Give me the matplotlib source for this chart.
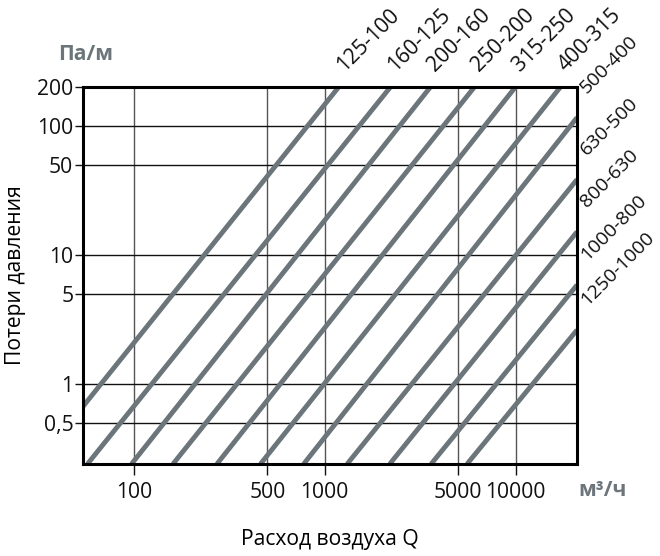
import matplotlib
matplotlib.use("Agg")
import matplotlib.pyplot as plt
from matplotlib.ticker import FixedLocator, NullLocator

plt.rcParams['font.family'] = ['Open Sans', 'DejaVu Sans']

# Диаметры воздуховодов и концы линий (Q в м3/ч, потери в Па/м)
labels = ["125-100", "160-125", "200-160", "250-200", "315-250", "400-315",
          "500-400", "630-500", "800-630", "1000-800", "1250-1000"]
q_start = [54, 57, 97, 160, 272, 460, 775, 1310, 2190, 3610, 5570]
p_start = [0.67, 0.24, 0.24, 0.24, 0.24, 0.24, 0.24, 0.24, 0.24, 0.24, 0.24]
q_end = [1183, 2210, 3580, 6090, 9990, 17200, 21000, 21000, 21000, 21000, 21000]
p_end = [200, 200, 200, 200, 200, 200, 116, 38.4, 15.1, 5.85, 2.62]

x_ticks = [100, 500, 1000, 5000, 10000]
x_ticklabels = ["100", "500", "1000", "5000", "10000"]
y_ticks = [0.5, 1, 5, 10, 50, 100, 200]
y_ticklabels = ["0,5", "1", "5", "10", "50", "100", "200"]

line_color = "#6b757a"
fs = 15.2

fig = plt.figure(figsize=(6.6, 5.56), dpi=100)
ax = fig.add_axes([83 / 660, 1 - 464 / 556, 494 / 660, 377 / 556])
ax.set_xscale("log")
ax.set_yscale("log")
ax.set_xlim(54, 21000)
ax.set_ylim(0.24, 200)

# сетка
for x in x_ticks:
    ax.axvline(x, color="#555555", lw=1.0, zorder=1)
for y in y_ticks[:-1]:
    ax.axhline(y, color="#111111", lw=1.0, zorder=1)

for i in range(len(labels)):
    ax.plot([q_start[i], q_end[i]], [p_start[i], p_end[i]], color=line_color,
            lw=3.5, solid_capstyle="butt", zorder=3, clip_on=True)

# подписи линий: сверху и справа
for i in range(len(labels)):
    if p_end[i] >= 200:
        off = (5 * 0.72, 15 * 0.72)
        size = fs
    else:
        off = (10 * 0.72, 24 * 0.72)
        size = 14
    ax.annotate(labels[i], (q_end[i], p_end[i]), xytext=off,
                textcoords="offset points", rotation=45,
                rotation_mode="anchor", ha="left", va="baseline",
                fontsize=size, color="#111111", annotation_clip=False)

ax.xaxis.set_major_locator(FixedLocator(x_ticks))
ax.xaxis.set_minor_locator(NullLocator())
ax.set_xticklabels(x_ticklabels)
ax.yaxis.set_major_locator(FixedLocator(y_ticks))
ax.yaxis.set_minor_locator(NullLocator())
ax.set_yticklabels(y_ticklabels)
ax.tick_params(axis="x", direction="out", length=8, width=1, pad=5,
               labelsize=fs, colors="#111111")
ax.tick_params(axis="y", direction="out", length=6, width=1, pad=1,
               labelsize=fs, colors="#111111")

for s in ax.spines.values():
    s.set_linewidth(2.2)
    s.set_color("black")
    s.set_zorder(5)

ax.set_ylabel("Потери давления", fontsize=fs, labelpad=8)
fig.text(330 / 660, 1 - 540 / 556, "Расход воздуха Q", fontsize=fs,
         ha="center", va="center")
fig.text(58 / 660, 1 - 55 / 556, "Па/м", fontsize=fs, fontweight="bold",
         color=line_color, ha="left", va="center")
fig.text(578 / 660, 1 - 490 / 556, "м³/ч", fontsize=fs, fontweight="bold",
         color=line_color, ha="left", va="center")

fig.savefig("out.png", dpi=100)
